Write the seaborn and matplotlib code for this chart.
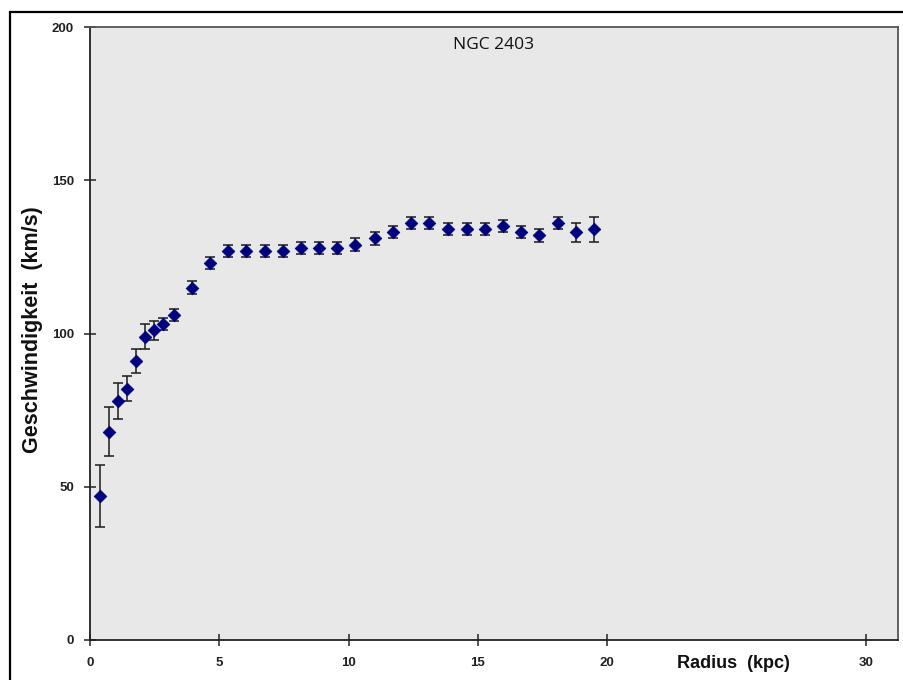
import matplotlib
matplotlib.use("Agg")
import matplotlib.pyplot as plt
from matplotlib.patches import Rectangle
import seaborn as sns
import pandas as pd

# Rotation curve of NGC 2403
radius_kpc = [0.39, 0.73, 1.08, 1.43, 1.78, 2.14, 2.47, 2.83, 3.23, 3.93,
              4.63, 5.32, 6.02, 6.76, 7.46, 8.17, 8.86, 9.57, 10.24, 11.02,
              11.73, 12.43, 13.13, 13.83, 14.57, 15.27, 15.98, 16.67, 17.37,
              18.10, 18.80, 19.51]
velocity_kms = [47, 68, 78, 82, 91, 99, 101, 103, 106, 115,
                123, 127, 127, 127, 127, 128, 128, 128, 129, 131,
                133, 136, 136, 134, 134, 134, 135, 133, 132,
                136, 133, 134]
velocity_err = [10, 8, 6, 4, 4, 4, 3, 2, 2, 2,
                2, 2, 2, 2, 2, 2, 2, 2, 2, 2,
                2, 2, 2, 2, 2, 2, 2, 2, 2,
                2, 3, 4]
x_ticks = [0, 5, 10, 15, 20, 30]
y_ticks = [0, 50, 100, 150, 200]

df = pd.DataFrame({"r": radius_kpc, "v": velocity_kms, "e": velocity_err})

sns.set_theme(style="white")
plt.rcParams["font.family"] = ["Liberation Sans", "DejaVu Sans"]

fig = plt.figure(figsize=(9.04, 6.8), dpi=100)
ax = fig.add_axes([90 / 904, 1 - 640 / 680, 808 / 904, 613 / 680])
ax.set_facecolor("#e8e8e8")

ax.errorbar(df["r"], df["v"], yerr=df["e"], fmt="none", ecolor="#1a1a1a",
            elinewidth=1.1, capsize=3.8, capthick=1.1, zorder=2)
sns.scatterplot(data=df, x="r", y="v", marker="D", s=42, color="#00007f",
                edgecolor="#00007f", linewidth=0.5, ax=ax, zorder=3)

ax.set_xlim(0, 31.25)
ax.set_ylim(0, 200)
ax.set_xticks(x_ticks)
ax.set_yticks(y_ticks)
ax.set_xlabel("")
ax.set_ylabel("")
ax.tick_params(axis="both", bottom=True, left=True, direction="inout",
               length=9, width=1.1, color="#222222", labelsize=9.5,
               labelcolor="#222222")
ax.tick_params(axis="x", pad=8)
ax.tick_params(axis="y", pad=7)
for lbl in ax.get_xticklabels() + ax.get_yticklabels():
    lbl.set_fontweight("bold")

for side in ["left", "bottom"]:
    ax.spines[side].set_color("#222222")
    ax.spines[side].set_linewidth(1.3)
for side in ["top", "right"]:
    ax.spines[side].set_color("#555555")
    ax.spines[side].set_linewidth(1.3)
    ax.spines[side].set_visible(True)

ax.text(0.5, 0.971, "NGC 2403", transform=ax.transAxes, ha="center",
        va="center", fontsize=12.5, color="#111111",
        family=["Open Sans", "DejaVu Sans"])

fig.text(733 / 904, 1 - 663 / 680, "Radius  (kpc)", ha="center", va="center",
         fontsize=13, fontweight="bold", color="#111111")
fig.text(33 / 904, 1 - 330 / 680, "Geschwindigkeit  (km/s)", ha="center",
         va="center", rotation=90, fontsize=15.5, fontweight="bold",
         color="#111111")

# chart border
fig.patches.append(Rectangle((9.5 / 904, -0.1), 1.2, 1 - 11.5 / 680 + 0.1,
                             transform=fig.transFigure, fill=False,
                             edgecolor="black", linewidth=1.6))

fig.savefig("out.png", dpi=100)
